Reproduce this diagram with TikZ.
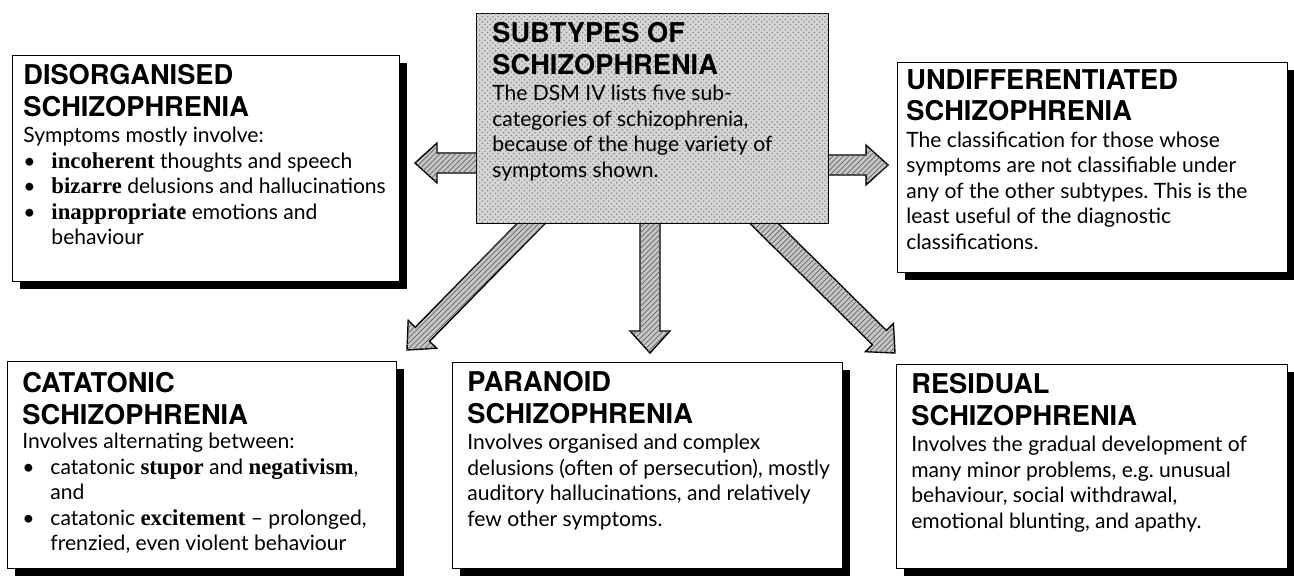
\documentclass[tikz,border=0pt]{standalone}
\usepackage{fontspec}
\setmainfont{Lato}
\newfontfamily\headfont{TeX Gyre Heros}
\newfontfamily\kwfont[Scale=1.08]{Liberation Serif}
\usetikzlibrary{calc,shadows,patterns,backgrounds}

\tikzset{
  frame/.style={draw, line width=0.8pt, fill=white, anchor=north west, inner sep=0pt,
    drop shadow={shadow xshift=4pt, shadow yshift=-4pt, fill=black, opacity=1}},
  centerbox/.style={draw, line width=0.8pt, anchor=north west, inner sep=0pt,
    fill=black!16, postaction={pattern=crosshatch dots, pattern color=black!45}},
  head/.style={anchor=north west, inner sep=0pt, align=left,
    font=\headfont\bfseries\fontsize{15.5}{18}\selectfont},
  body/.style={anchor=north west, inner sep=0pt, align=left,
    font=\frenchspacing\fontsize{12}{14.5}\selectfont},
  hatched/.style={draw, line width=0.8pt, fill=gray!45,
    postaction={pattern=north east lines, pattern color=black!60}},
}
\newcommand{\kw}[1]{{\kwfont\bfseries #1}}
\newcommand{\bul}{\makebox[16pt][l]{\textbullet}}
\newcommand{\ind}{\hspace*{16pt}}
% block arrow from #1 to the tip #2
\newcommand{\fatarrow}[2]{%
  \coordinate (neck) at ($(#2)!12.5pt!(#1)$);
  \draw[hatched] ($(#1)!5.7pt!90:(#2)$) -- ($(neck)!5.7pt!-90:(#1)$)
    -- ($(neck)!11.3pt!-90:(#1)$) -- (#2) -- ($(neck)!11.3pt!90:(#1)$)
    -- ($(neck)!5.7pt!90:(#1)$) -- ($(#1)!5.7pt!-90:(#2)$) -- cycle;}

\begin{document}
\begin{tikzpicture}[x=0.02cm, y=-0.02cm]
\useasboundingbox (0,0) rectangle (1294,578);

% centre
\node[centerbox, minimum width=7.04cm, minimum height=4.2cm] (center) at (476,13) {};
\node[head] (center-h) at ([shift={(16,9)}]center.north west) {SUBTYPES OF\\SCHIZOPHRENIA};
\node[body] (center-b) at ([shift={(0,10)}]center-h.south west) {The DSM IV lists five sub-\\categories of schizophrenia,\\because of the huge variety of\\symptoms shown.};

% top row
\node[frame, minimum width=7.74cm, minimum height=4.52cm] (disorg) at (12,55) {};
\node[head] (disorg-h) at ([shift={(11,9)}]disorg.north west) {DISORGANISED\\SCHIZOPHRENIA};
\node[body] (disorg-b) at ([shift={(0,10)}]disorg-h.south west) {Symptoms mostly involve:\\
  \bul\kw{incoherent} thoughts and speech\\
  \bul\kw{bizarre} delusions and hallucinations\\
  \bul\kw{inappropriate} emotions and\\
  \ind behaviour};

\node[frame, minimum width=7.8cm, minimum height=4.2cm] (undiff) at (897,62) {};
\node[head] (undiff-h) at ([shift={(9,7)}]undiff.north west) {UNDIFFERENTIATED\\SCHIZOPHRENIA};
\node[body] (undiff-b) at ([shift={(0,10)}]undiff-h.south west) {The classification for those whose\\
  symptoms are not classifiable under\\any of the other subtypes. This is the\\
  least useful of the diagnostic\\classifications.};

% bottom row
\node[frame, minimum width=7.78cm, minimum height=4.14cm] (catat) at (7,361) {};
\node[head] (catat-h) at ([shift={(15,11)}]catat.north west) {CATATONIC\\SCHIZOPHRENIA};
\node[body] (catat-b) at ([shift={(0,8)}]catat-h.south west) {Involves alternating between:\\
  \bul catatonic \kw{stupor} and \kw{negativism},\\
  \ind and\\
  \bul catatonic \kw{excitement} -- prolonged,\\
  \ind frenzied, even violent behaviour};

\node[frame, minimum width=7.8cm, minimum height=4.12cm] (paran) at (452,362) {};
\node[head] (paran-h) at ([shift={(15,9)}]paran.north west) {PARANOID\\SCHIZOPHRENIA};
\node[body] (paran-b) at ([shift={(0,10)}]paran-h.south west) {Involves organised and complex\\
  delusions (often of persecution), mostly\\auditory hallucinations, and relatively\\
  few other symptoms.};

\node[frame, minimum width=7.82cm, minimum height=4.08cm] (resid) at (896,364) {};
\node[head] (resid-h) at ([shift={(15,9)}]resid.north west) {RESIDUAL\\SCHIZOPHRENIA};
\node[body] (resid-b) at ([shift={(0,10)}]resid-h.south west) {Involves the gradual development of\\
  many minor problems, e.g. unusual\\behaviour, social withdrawal,\\
  emotional blunting, and apathy.};

% arrows
\coordinate (lt) at (415,163);
\coordinate (rt) at (888,165);
\coordinate (dt) at (650,353);
\coordinate (ldt) at (407,350);
\coordinate (rdt) at (895,353);
\coordinate (ls) at ([xshift=0.2cm]center.west |- lt);
\coordinate (rs) at ([xshift=-0.2cm]center.east |- rt);
\coordinate (ds) at ([yshift=0.2cm]center.south -| dt);
\coordinate (lds) at ($(center.south west)+(64,-10)$);
\coordinate (rds) at ($(center.south west)+(279,-10)$);
\begin{scope}[on background layer]
\fatarrow{ls}{lt}
\fatarrow{rs}{rt}
\fatarrow{ds}{dt}
\fatarrow{lds}{ldt}
\fatarrow{rds}{rdt}
\end{scope}
\end{tikzpicture}
\end{document}
